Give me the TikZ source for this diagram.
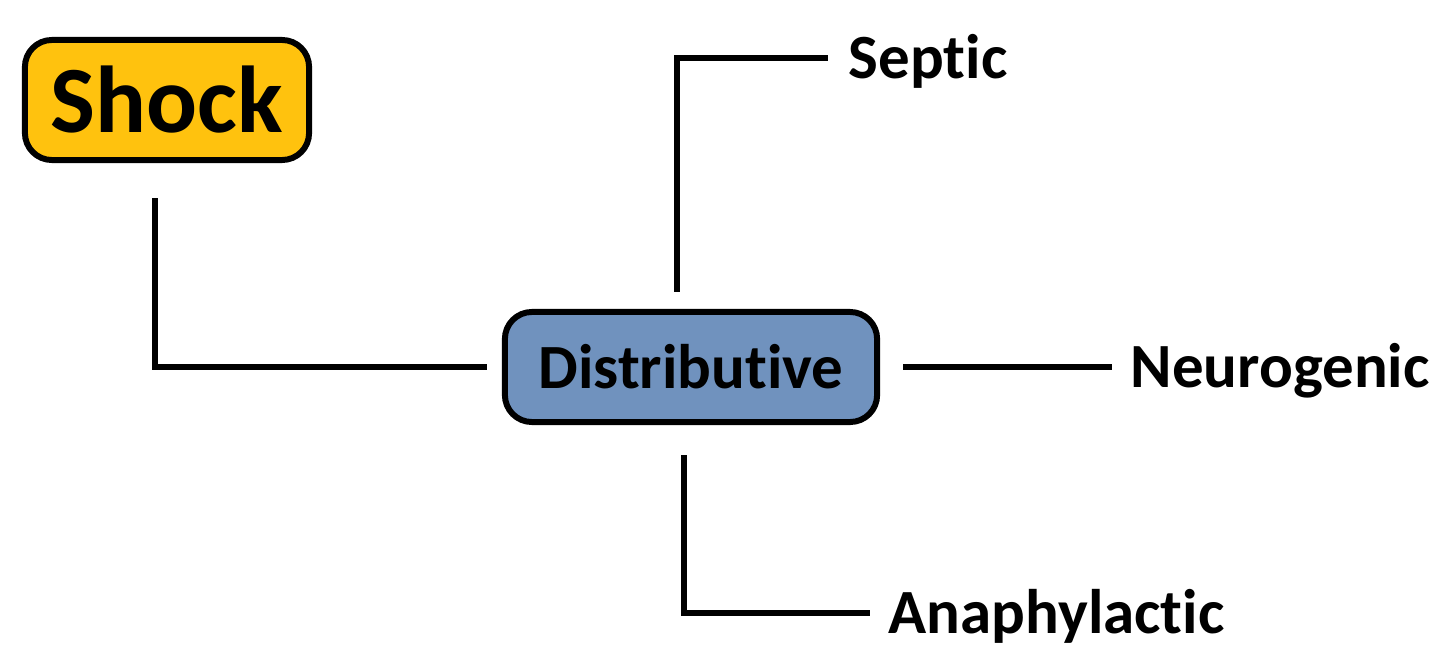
\documentclass[tikz,border=0pt]{standalone}
\usepackage{fontspec}
\setmainfont{Carlito}[Ligatures=NoCommon]
\definecolor{shockgold}{RGB}{255,194,14}
\definecolor{distblue}{RGB}{112,146,190}

\begin{document}
\begin{tikzpicture}[x=0.01cm,y=-0.01cm,
    box/.style={draw=black,line width=1.7pt,rounded corners=0.27cm,inner sep=0pt,font=\bfseries},
    label/.style={anchor=west,inner sep=0pt,text height=0.4cm,text depth=0pt,font=\fontsize{17.9}{20}\selectfont\bfseries},
    link/.style={draw=black,line width=1.45pt}]
        \useasboundingbox (0,0) rectangle (1440,670);

        \node[box,fill=shockgold,minimum width=2.84cm,minimum height=1.2cm,font=\fontsize{27}{30}\selectfont\bfseries] (shock) at (167,100) {Shock};
        \node[box,fill=distblue,minimum width=3.72cm,minimum height=1.1cm,font=\fontsize{17.9}{20}\selectfont\bfseries] (dist) at (691,367) {Distributive};

        \node[label] (septic) at (848,58) {Septic};
        \node[label] (neuro) at (1130,367) {Neurogenic};
        \node[label] (ana) at (888,613) {Anaphylactic};

        \draw[link,shorten <=0.35cm,shorten >=0.15cm] ([xshift=-0.12cm]shock.south) |- (dist.west);
        \draw[link,shorten <=0.17cm,shorten >=0.2cm] ([xshift=-0.14cm]dist.north) |- (septic.west);
        \draw[link,shorten <=0.23cm,shorten >=0.18cm] (dist.east) -- (neuro.west);
        \draw[link,shorten <=0.3cm,shorten >=0.18cm] ([xshift=-0.07cm]dist.south) |- (ana.west);
    \end{tikzpicture}
\end{document}
